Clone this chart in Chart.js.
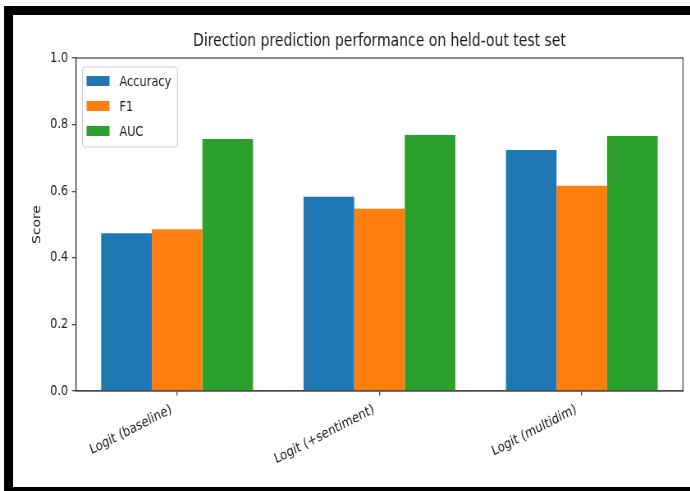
<!DOCTYPE html>
<html><head><meta charset="utf-8">
<script src="https://cdn.jsdelivr.net/npm/chart.js@4.4.1/dist/chart.umd.min.js"></script>
<style>
html,body{margin:0;padding:0;background:#fff;overflow:hidden;width:690px;height:491px;}
#wrap{position:absolute;left:0;top:0;width:841px;height:491px;transform:scaleX(0.8205);transform-origin:0 0;}
canvas{display:block;}
</style>
</head><body>
<div id="wrap"><canvas id="c" width="841" height="491" style="width:841px;height:491px"></canvas></div>
<script>
const categories = ['Logit (baseline)', 'Logit (+sentiment)', 'Logit (multidim)'];
const seriesNames = ['Accuracy', 'F1', 'AUC'];
const accuracy = [0.474, 0.583, 0.724];
const f1 = [0.486, 0.547, 0.616];
const auc = [0.757, 0.769, 0.766];
const yTicks = [0.0, 0.2, 0.4, 0.6, 0.8, 1.0];
const colors = ['#1f77b4', '#ff7f0e', '#2ca02c'];
const FONT = "'DejaVu Sans', sans-serif";
const AXIS = '#4a4a4a';
const TXT = '#1a1a1a';

const framePlugin = {
  id: 'frame',
  beforeDraw(chart) {
    const ctx = chart.ctx;
    ctx.save();
    ctx.fillStyle = '#fff';
    ctx.fillRect(0, 0, chart.width, chart.height);
    ctx.fillStyle = '#000';
    ctx.fillRect(5, 6, chart.width - 5, 9);
    ctx.fillRect(5, 6, 11, chart.height - 6);
    ctx.fillRect(5, chart.height - 4, chart.width - 5, 4);
    ctx.restore();
  },
  afterDatasetsDraw(chart) {
    const a = chart.chartArea, ctx = chart.ctx;
    ctx.save();
    ctx.strokeStyle = AXIS;
    ctx.lineWidth = 1.3;
    ctx.strokeRect(a.left, a.top, a.right - a.left, a.bottom - a.top);
    ctx.restore();
  }
};

const legendPlugin = {
  id: 'boxLegend',
  afterDraw(chart) {
    const ctx = chart.ctx, a = chart.chartArea;
    const x0 = a.left + 8, y0 = a.top + 9, w = 116, h = 80, r = 4;
    ctx.save();
    ctx.beginPath();
    ctx.moveTo(x0 + r, y0);
    ctx.lineTo(x0 + w - r, y0); ctx.quadraticCurveTo(x0 + w, y0, x0 + w, y0 + r);
    ctx.lineTo(x0 + w, y0 + h - r); ctx.quadraticCurveTo(x0 + w, y0 + h, x0 + w - r, y0 + h);
    ctx.lineTo(x0 + r, y0 + h); ctx.quadraticCurveTo(x0, y0 + h, x0, y0 + h - r);
    ctx.lineTo(x0, y0 + r); ctx.quadraticCurveTo(x0, y0, x0 + r, y0);
    ctx.closePath();
    ctx.fillStyle = 'rgba(255,255,255,0.8)';
    ctx.fill();
    ctx.strokeStyle = '#d0d0d0';
    ctx.lineWidth = 1.2;
    ctx.stroke();
    ctx.font = '13.85px ' + FONT;
    ctx.textBaseline = 'middle';
    chart.data.datasets.forEach((ds, i) => {
      const cy = y0 + 14 + i * 25;
      ctx.fillStyle = ds.backgroundColor;
      ctx.fillRect(x0 + 5, cy - 5, 28, 10);
      ctx.fillStyle = TXT;
      ctx.fillText(ds.label, x0 + 45, cy + 1);
    });
    ctx.restore();
  }
};

const seriesData = [accuracy, f1, auc];
new Chart(document.getElementById('c'), {
  type: 'bar',
  data: {
    labels: categories,
    datasets: seriesNames.map((n, i) => ({
      label: n,
      data: seriesData[i],
      backgroundColor: colors[i],
      borderWidth: 0,
      categoryPercentage: 0.75,
      barPercentage: 1.0
    }))
  },
  options: {
    responsive: false,
    animation: false,
    devicePixelRatio: 1,
    layout: { padding: { left: 0, right: 8.6, top: 0, bottom: 0 } },
    plugins: {
      legend: { display: false },
      tooltip: { enabled: false },
      title: {
        display: true,
        fullSize: false,
        text: 'Direction prediction performance on held-out test set',
        font: { family: FONT, size: 17, weight: 'normal' },
        color: TXT,
        padding: { top: 31.8, bottom: 5.8 }
      }
    },
    scales: {
      x: {
        type: 'category',
        offset: true,
        grid: { display: true, drawOnChartArea: false, drawTicks: true, tickLength: 4.5, tickColor: AXIS, offset: false, lineWidth: 1.3 },
        border: { display: true, color: AXIS, width: 1.3 },
        ticks: { font: { family: FONT, size: 13.85 }, color: TXT, minRotation: 23, maxRotation: 23, padding: 6, labelOffset: -7, autoSkip: false },
        afterFit(s) { s.height = 100; }
      },
      y: {
        min: 0, max: 1,
        afterBuildTicks(s) { s.ticks = yTicks.map(v => ({ value: v })); },
        grid: { display: true, drawOnChartArea: false, drawTicks: true, tickLength: 4.9, tickColor: AXIS, lineWidth: 1.3 },
        border: { display: true, color: AXIS, width: 1.3 },
        ticks: { font: { family: FONT, size: 13.85 }, color: TXT, padding: 4.5, callback: v => Number(v).toFixed(1) },
        title: { display: true, text: 'Score', font: { family: FONT, size: 13.85 }, color: TXT, padding: { top: 37.4, bottom: 0 } },
        afterFit(s) { s.width = 92.5; }
      }
    }
  },
  plugins: [framePlugin, legendPlugin]
});
</script>
</body></html>
